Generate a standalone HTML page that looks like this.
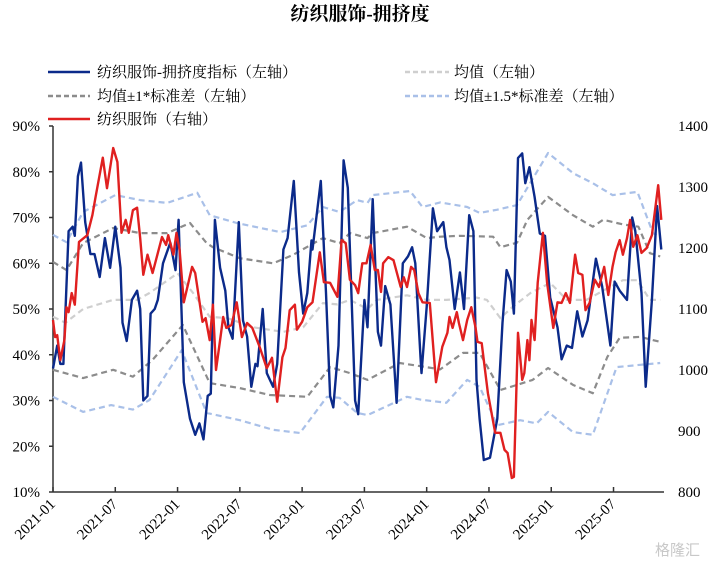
<!DOCTYPE html>
<html><head><meta charset="utf-8">
<style>
html,body{margin:0;padding:0;background:#fff;}
svg{display:block;font-family:"Liberation Serif","Noto Serif CJK SC",serif;}
</style></head>
<body>
<svg id="chart" width="720" height="568" viewBox="0 0 720 568">
  <text x="360" y="20" text-anchor="middle" font-size="19" font-weight="bold" fill="#000">纺织服饰-拥挤度</text>
  <g font-size="15" fill="#000">
    <g><line x1="48" y1="72" x2="90" y2="72" stroke="#0b2a8a" stroke-width="2.5"/><text x="97" y="77">纺织服饰-拥挤度指标（左轴）</text></g>
    <g><line x1="405" y1="72" x2="449" y2="72" stroke="#cfcfcf" stroke-width="2.5" stroke-dasharray="5,3"/><text x="454" y="77">均值（左轴）</text></g>
    <g><line x1="48" y1="96" x2="90" y2="96" stroke="#8c8c8c" stroke-width="2.5" stroke-dasharray="5,3"/><text x="97" y="101">均值±1*标准差（左轴）</text></g>
    <g><line x1="405" y1="96" x2="449" y2="96" stroke="#a9c0e8" stroke-width="2.5" stroke-dasharray="5,3"/><text x="454" y="101">均值±1.5*标准差（左轴）</text></g>
    <g><line x1="48" y1="119" x2="90" y2="119" stroke="#e02020" stroke-width="2.5"/><text x="97" y="124">纺织服饰（右轴）</text></g>
  </g>
  <g id="plot"></g>
  <text x="700" y="555" text-anchor="end" font-size="15" fill="#c8c8c8" font-family="'Liberation Sans','Noto Sans CJK SC',sans-serif">格隆汇</text>
</svg>
<script>
// months since 2021-01 and values
const leftTicks = [10,20,30,40,50,60,70,80,90];
const rightTicks = [800,900,1000,1100,1200,1300,1400];
const xTickLabels = ["2021-01","2021-07","2022-01","2022-07","2023-01","2023-07","2024-01","2024-07","2025-01","2025-07"];
const crowdMonths = [0,0.4,0.7,1.0,1.5,1.9,2.1,2.4,2.7,3.1,3.6,4.0,4.5,5.0,5.5,6.0,6.5,6.7,7.1,7.6,8.1,8.4,8.7,9.1,9.4,9.8,10.1,10.6,11.3,11.8,12.1,12.6,13.2,13.7,14.1,14.5,14.9,15.2,15.6,16.1,16.6,16.9,17.3,17.9,18.3,18.7,19.1,19.5,19.7,20.2,20.6,21.2,21.6,22.2,22.6,23.2,23.7,24.1,24.5,24.9,25.0,25.8,26.3,26.7,27.0,27.5,28.0,28.4,29.1,29.4,30.0,30.3,30.8,31.3,31.6,32.0,32.5,33.1,33.7,34.2,34.6,34.9,35.4,35.5,36.0,36.6,37.0,37.6,37.9,38.2,38.7,39.2,39.6,40.1,40.5,40.8,41.1,41.5,42.1,42.8,43.3,43.7,44.1,44.4,44.8,45.2,45.5,45.9,46.4,46.9,47.4,47.9,48.6,49.0,49.5,50.0,50.5,51.0,51.5,52.3,52.9,53.7,54.1,54.6,55.3,55.8,56.1,56.7,57.1,57.7,58.2,58.6];
const crowdValues = [37,42,38,38,67,68,66,79,82,69,62,62,57,65.5,59,68,59,47,43,52,54,50,30,31,49,50,52,60,64.5,58.5,69.5,34,26,22.5,25,21.5,31,31.5,69.5,59,54,46,43.5,69,47.5,44,33,38,37.5,50,36,33,38,63,65.5,78,58,49,53.5,65,63,78,53.5,31,28.5,42,82.5,76.5,30,27,52,46,74,45,42,55,51,29.5,60,61.5,63.5,60,39.5,36,50.5,72,67,69,63.5,60.7,50,58,50,70.5,67,34.5,26,17,17.5,26,47,58.5,56,49,83,84,77.5,81,74.5,66.5,66,52.5,46,39,42,41.5,49.5,44,47.5,61,55,42,56,54,52,70,67,53.5,33,52,72.5,63];
const priceMonths = [0,0.2,0.4,0.7,1.1,1.3,1.5,1.8,2.1,2.5,3.3,3.8,4.1,4.8,5.2,5.8,6.2,6.6,7.0,7.3,7.7,8.1,8.4,8.7,9.1,9.6,10.5,10.9,11.1,11.6,11.9,12.2,12.6,13.4,13.7,14.4,14.7,15.1,15.4,15.7,16.1,16.4,16.7,17.2,17.7,18.2,18.7,19.2,19.9,20.6,21.1,21.6,22.1,22.4,22.8,23.3,23.5,24.0,24.5,25.0,25.7,26.1,26.7,27.4,27.8,28.2,28.6,29.1,29.4,29.8,30.2,30.6,31.0,31.3,31.6,31.8,32.3,32.8,33.5,33.8,34.1,34.5,34.8,35.2,35.6,36.3,36.9,37.5,38.0,38.2,38.5,38.9,39.1,39.5,39.9,40.3,40.7,40.9,41.3,41.9,42.6,43.1,43.5,43.8,44.2,44.4,44.8,45.2,45.4,45.7,45.9,46.1,46.4,46.7,47.2,47.6,48.2,48.6,49.0,49.4,49.8,50.3,50.6,51.0,51.3,51.7,52.2,52.6,53.1,53.5,53.9,54.2,54.6,54.9,55.3,55.6,55.9,56.3,56.7,57.2,57.7,58.3,58.6];
const priceValues = [1082,1054,1057,1016,1049,1103,1095,1126,1107,1210,1221,1254,1284,1348,1298,1364,1341,1225,1246,1225,1262,1266,1216,1156,1189,1159,1218,1205,1221,1189,1225,1197,1111,1169,1159,1079,1085,1049,1107,1000,1049,1087,1069,1074,1111,1054,1077,1069,1038,1003,1020,948,1021,1036,1098,1107,1066,1079,1103,1111,1193,1144,1143,1120,1213,1208,1148,1139,1126,1175,1175,1205,1164,1164,1128,1175,1185,1180,1136,1152,1136,1169,1164,1126,1111,1110,980,1038,1061,1087,1069,1095,1077,1049,1082,1103,1070,1046,1044,962,897,897,869,864,823,825,1061,984,995,1049,1016,1082,1049,1143,1225,1143,1069,1111,1110,1126,1110,1189,1159,1156,1098,1110,1148,1136,1169,1123,1169,1193,1213,1189,1216,1246,1202,1221,1192,1200,1221,1303,1246];
const bandMonths = [0,1.2,2.9,5.8,8.1,9.3,12.0,13.5,15.1,16.8,19.3,22.2,24.1,26.0,27.4,28.6,30.3,31.2,34.1,36.0,37.9,40.8,41.8,43.1,44.3,46.0,47.9,49.5,51.4,53.4,54.9,56.3,57.5,58.5];
const meanValues = [48.3,47,50,52,52,53.5,57.8,53.5,48.3,48,46,45,46,51.3,51,52,50,52,53,52,52,52.5,52,48,50.5,53.5,55.7,52,52,54.5,56.3,56.3,52,52];
const band1Months = [0,1.3,2.9,5.8,8.4,11.0,13.2,14.8,15.4,18.0,21.2,23.1,26.0,27.6,28.6,30.3,30.8,34.1,36.0,37.3,39.2,42.4,43.1,44.7,45.7,47.7,50.1,52.0,53.0,54.9,56.4,57.5,58.5];
const upper1Values = [60.3,58.5,64.4,67.7,66.6,66.6,68.8,64.4,63.5,61.1,60,61.8,65.5,64.4,66.6,65.5,66.6,68,65.5,65.8,66,65.8,63.5,64.5,69.5,74.5,70.5,68,69.5,68.5,68,62.2,61.5];
const lower1Months = [0,2.9,5.8,7.7,9.6,12.5,15.1,18.0,20.9,24.5,26.7,28.6,30.3,33.4,35.4,37.3,39.5,41.1,43.1,44.7,46.2,47.7,50.1,52.0,53.4,54.6,56.6,58.5];
const lower1Values = [36.7,34.9,36.7,35.2,38.9,46.5,33.8,32.7,31.2,30.8,37.3,36,34.5,38.2,37.5,36.8,40.4,40.4,32.3,33.4,34.5,37.1,33.4,31.6,39.5,43.7,43.9,42.8];
const upper15Months = [0,1.3,2.9,6.0,8.4,11.0,13.9,15.1,17.7,21.9,24.5,26.0,27.6,29.3,30.3,30.8,34.4,35.6,37.3,39.9,41.1,42.8,44.7,47.7,50.1,52.0,53.9,56.3,57.8,58.5];
const upper15Values = [66.2,64.6,71.2,74.9,73.8,73.2,75.4,70.5,68.8,66.8,68.3,72.3,71.2,73.8,73.2,74.9,75.8,72.3,73.3,72.3,71,71.7,72.7,84.1,79.7,77.5,74.9,75.6,66.6,65.7];
const lower15Months = [0,2.9,5.6,7.7,9.3,12.4,14.8,18.0,21.2,23.8,26.4,27.6,29.3,30.3,34.1,35.4,37.9,39.9,41.1,42.8,45.0,46.6,47.7,50.1,52.0,54.3,56.6,58.5];
const lower15Values = [30.8,27.5,29,28,30.1,41,27.3,25.7,23.6,22.9,30.8,30.6,27.3,26.8,30.8,30.2,29.5,34.5,33,24.6,25.7,25,27.5,23.1,22.5,37.3,37.8,38.2];

const X0=53, PXM=10.38, YT=126, YB=492;
const xScale = m => X0 + m*PXM;
const yLeft = v => YB - (v-10)/80*(YB-YT);
const yRight = v => YB - (v-800)/600*(YB-YT);
const NS="http://www.w3.org/2000/svg";
const plot=document.getElementById('plot');
function mk(tag,attrs,parent){const e=document.createElementNS(NS,tag);for(const k in attrs)e.setAttribute(k,attrs[k]);(parent||plot).appendChild(e);return e;}
function series(ms,vs,ys,stroke,w,dash,name){
  const d=ms.map((m,i)=>(i?'L':'M')+xScale(m).toFixed(1)+','+ys(vs[i]).toFixed(1)).join('');
  const p=mk('path',{d:d,fill:'none',stroke:stroke,'stroke-width':w,'stroke-linejoin':'round'});
  if(dash)p.setAttribute('stroke-dasharray',dash);
  
  
}
// axes
const ax=mk('g',{stroke:'#333','stroke-width':1.5});


mk('line',{x1:X0,y1:YT,x2:X0,y2:YB},ax);
mk('line',{x1:X0,y1:YB,x2:664,y2:YB},ax);
leftTicks.forEach(v=>{
  mk('line',{x1:X0-4,y1:yLeft(v),x2:X0,y2:yLeft(v)},ax);
  const t=mk('text',{x:40,y:yLeft(v)+5,'text-anchor':'end','font-size':15,fill:'#000'});
  t.textContent=v+'%';
  
  
});
rightTicks.forEach(v=>{
  const t=mk('text',{x:678,y:yRight(v)+5,'font-size':15,fill:'#000'});
  t.textContent=v;
  
  
});
xTickLabels.forEach((lab,i)=>{
  const x=xScale(i*6);
  mk('line',{x1:x,y1:YB,x2:x,y2:YB-5},ax);
  const t=mk('text',{x:x+3,y:YB+13,'text-anchor':'end','font-size':15,fill:'#000',transform:`rotate(-45 ${x+3} ${YB+13})`});
  t.textContent=lab;
  
  
});
series(upper15Months,upper15Values,yLeft,'#a9c0e8',2.2,'6,4','upper-1-5sd-line');
series(lower15Months,lower15Values,yLeft,'#a9c0e8',2.2,'6,4','lower-1-5sd-line');
series(band1Months,upper1Values,yLeft,'#8c8c8c',2.2,'6,4','upper-1sd-line');
series(lower1Months,lower1Values,yLeft,'#8c8c8c',2.2,'6,4','lower-1sd-line');
series(bandMonths,meanValues,yLeft,'#cfcfcf',2.2,'6,4','mean-line');
series(crowdMonths,crowdValues,yLeft,'#0b2a8a',2.4,null,'crowding-line');
series(priceMonths,priceValues,yRight,'#e02020',2.4,null,'price-line');
</script>
</body></html>
